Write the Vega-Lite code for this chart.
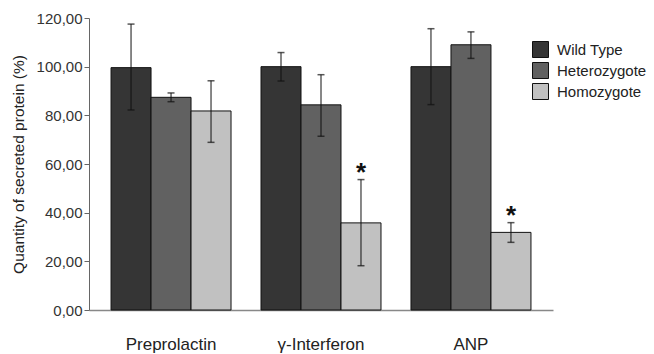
{
  "$schema": "https://vega.github.io/schema/vega-lite/v6.json",
  "width": 464,
  "height": 292,
  "autosize": "none",
  "padding": {"left": 89, "top": 18, "right": 101, "bottom": 44},
  "background": "white",
  "config": {
    "font": "Liberation Sans",
    "view": {"stroke": null}
  },
  "data": {
    "values": [
      {"protein": "Preprolactin", "genotype": "Wild Type", "value": 99.6, "lo": 82.2, "hi": 117.5, "star": ""},
      {"protein": "Preprolactin", "genotype": "Heterozygote", "value": 87.4, "lo": 85.6, "hi": 89.2, "star": ""},
      {"protein": "Preprolactin", "genotype": "Homozygote", "value": 81.8, "lo": 68.9, "hi": 94.2, "star": ""},
      {"protein": "γ-Interferon", "genotype": "Wild Type", "value": 100.0, "lo": 94.1, "hi": 105.8, "star": ""},
      {"protein": "γ-Interferon", "genotype": "Heterozygote", "value": 84.3, "lo": 71.4, "hi": 96.7, "star": ""},
      {"protein": "γ-Interferon", "genotype": "Homozygote", "value": 35.8, "lo": 18.2, "hi": 53.6, "star": "*"},
      {"protein": "ANP", "genotype": "Wild Type", "value": 100.0, "lo": 84.4, "hi": 115.6, "star": ""},
      {"protein": "ANP", "genotype": "Heterozygote", "value": 109.0, "lo": 103.4, "hi": 114.3, "star": ""},
      {"protein": "ANP", "genotype": "Homozygote", "value": 31.9, "lo": 27.8, "hi": 35.9, "star": "*"}
    ]
  },
  "encoding": {
    "x": {
      "field": "protein",
      "type": "nominal",
      "sort": ["Preprolactin", "γ-Interferon", "ANP"],
      "scale": {"paddingInner": 0.2, "paddingOuter": 0.147},
      "axis": {
        "title": null,
        "labelAngle": 0,
        "ticks": false,
        "labelPadding": 26,
        "labelFontSize": 17,
        "labelColor": "#222222",
        "domainColor": "#888888",
        "domainWidth": 1.5
      }
    },
    "xOffset": {
      "field": "genotype",
      "type": "nominal",
      "sort": ["Wild Type", "Heterozygote", "Homozygote"],
      "scale": {"paddingInner": 0, "paddingOuter": 0}
    }
  },
  "layer": [
    {
      "mark": {"type": "bar", "stroke": "#111111", "strokeWidth": 1},
      "encoding": {
        "y": {
          "field": "value",
          "type": "quantitative",
          "scale": {"domain": [0, 120], "nice": false},
          "axis": {
            "title": "Quantity of secreted protein (%)",
            "titleFontSize": 15.5,
            "titleFontWeight": "normal",
            "titleColor": "#222222",
            "titlePadding": 10,
            "values": [0, 20, 40, 60, 80, 100, 120],
            "labelExpr": "replace(format(datum.value, '.2f'), '.', ',')",
            "labelFontSize": 15,
            "labelColor": "#333333",
            "labelPadding": 2,
            "tickSize": 5,
            "tickColor": "#666666",
            "domainColor": "#666666",
            "grid": false
          }
        },
        "fill": {
          "field": "genotype",
          "type": "nominal",
          "scale": {
            "domain": ["Wild Type", "Heterozygote", "Homozygote"],
            "range": ["#353535", "#616161", "#c1c1c1"]
          },
          "legend": {
            "title": null,
            "orient": "none",
            "legendX": 443,
            "legendY": 23,
            "symbolType": "square",
            "symbolSize": 256,
            "symbolStrokeColor": "#111111",
            "symbolStrokeWidth": 1,
            "symbolOpacity": 1,
            "labelFontSize": 15,
            "labelColor": "#222222",
            "labelOffset": 8,
            "rowPadding": 0
          }
        }
      }
    },
    {
      "mark": {"type": "rule", "color": "#111111", "strokeWidth": 1},
      "encoding": {
        "y": {"field": "lo", "type": "quantitative"},
        "y2": {"field": "hi"}
      }
    },
    {
      "mark": {"type": "tick", "color": "#111111", "thickness": 1.5, "size": 7},
      "encoding": {"y": {"field": "lo", "type": "quantitative"}}
    },
    {
      "mark": {"type": "tick", "color": "#111111", "thickness": 1.5, "size": 7},
      "encoding": {"y": {"field": "hi", "type": "quantitative"}}
    },
    {
      "mark": {"type": "text", "fontSize": 26, "fontWeight": "bold", "baseline": "alphabetic", "dy": 1, "color": "#111111"},
      "encoding": {
        "y": {"field": "hi", "type": "quantitative"},
        "text": {"field": "star"}
      }
    }
  ]
}
